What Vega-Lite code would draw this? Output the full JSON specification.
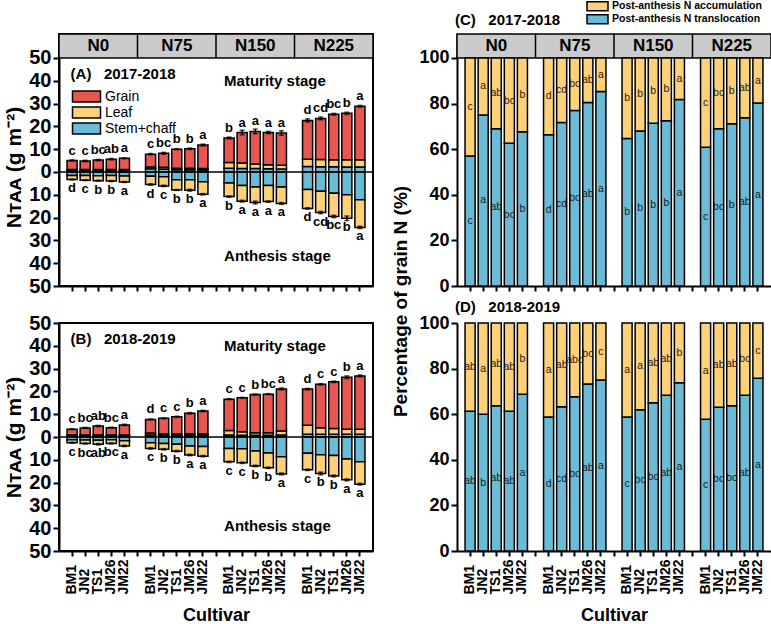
{
"$schema":"https://vega.github.io/schema/vega-lite/v6.json",
"padding":{"left":2,"top":0,"right":1,"bottom":0},
"config":{"font":"Liberation Sans","view":{"stroke":null},
"axis":{"domainColor":"black","domainWidth":2,"tickColor":"black","tickWidth":2,"labelColor":"black","labelFont":"Liberation Sans","labelFontWeight":"bold","titleFont":"Liberation Sans","titleFontWeight":"bold","titleColor":"black","grid":false,"labelOverlap":false,"labelBound":false},
"legend":{"labelFont":"Liberation Sans","labelColor":"black","padding":0},
"text":{"color":"black"},"title":{"font":"Liberation Sans","color":"black"}},
"datasets":{
"nt":[
{"yr":"2017-2018","N":"N0","cv":"BM1","st":"M","Stem+chaff":0.5,"Leaf":0.6,"Grain":3.9,"err":0.3,"lt":"c"},
{"yr":"2017-2018","N":"N0","cv":"JN2","st":"M","Stem+chaff":0.5,"Leaf":0.6,"Grain":3.7,"err":0.3,"lt":"c"},
{"yr":"2017-2018","N":"N0","cv":"TS1","st":"M","Stem+chaff":0.5,"Leaf":0.6,"Grain":4.1,"err":0.3,"lt":"bc"},
{"yr":"2017-2018","N":"N0","cv":"JM26","st":"M","Stem+chaff":0.5,"Leaf":0.6,"Grain":4.5,"err":0.3,"lt":"ab"},
{"yr":"2017-2018","N":"N0","cv":"JM22","st":"M","Stem+chaff":0.5,"Leaf":0.6,"Grain":4.9,"err":0.2,"lt":"a"},
{"yr":"2017-2018","N":"N75","cv":"BM1","st":"M","Stem+chaff":1.4,"Leaf":0.8,"Grain":5.6,"err":0.3,"lt":"c"},
{"yr":"2017-2018","N":"N75","cv":"JN2","st":"M","Stem+chaff":1.3,"Leaf":0.8,"Grain":6.1,"err":0.4,"lt":"bc"},
{"yr":"2017-2018","N":"N75","cv":"TS1","st":"M","Stem+chaff":1.0,"Leaf":0.6,"Grain":8.4,"err":0.2,"lt":"b"},
{"yr":"2017-2018","N":"N75","cv":"JM26","st":"M","Stem+chaff":1.0,"Leaf":0.6,"Grain":8.6,"err":0.3,"lt":"b"},
{"yr":"2017-2018","N":"N75","cv":"JM22","st":"M","Stem+chaff":0.9,"Leaf":0.6,"Grain":10.3,"err":0.4,"lt":"a"},
{"yr":"2017-2018","N":"N150","cv":"BM1","st":"M","Stem+chaff":1.6,"Leaf":2.6,"Grain":10.7,"err":0.4,"lt":"b"},
{"yr":"2017-2018","N":"N150","cv":"JN2","st":"M","Stem+chaff":1.5,"Leaf":2.4,"Grain":13.4,"err":1.0,"lt":"a"},
{"yr":"2017-2018","N":"N150","cv":"TS1","st":"M","Stem+chaff":1.5,"Leaf":2.0,"Grain":14.3,"err":1.0,"lt":"a"},
{"yr":"2017-2018","N":"N150","cv":"JM26","st":"M","Stem+chaff":1.4,"Leaf":1.8,"Grain":14.1,"err":0.5,"lt":"a"},
{"yr":"2017-2018","N":"N150","cv":"JM22","st":"M","Stem+chaff":1.3,"Leaf":1.6,"Grain":14.2,"err":1.0,"lt":"a"},
{"yr":"2017-2018","N":"N225","cv":"BM1","st":"M","Stem+chaff":2.4,"Leaf":3.2,"Grain":17.0,"err":0.7,"lt":"d"},
{"yr":"2017-2018","N":"N225","cv":"JN2","st":"M","Stem+chaff":2.3,"Leaf":3.2,"Grain":18.0,"err":0.6,"lt":"cd"},
{"yr":"2017-2018","N":"N225","cv":"TS1","st":"M","Stem+chaff":2.3,"Leaf":3.1,"Grain":19.9,"err":0.4,"lt":"bc"},
{"yr":"2017-2018","N":"N225","cv":"JM26","st":"M","Stem+chaff":2.2,"Leaf":3.2,"Grain":20.3,"err":0.5,"lt":"b"},
{"yr":"2017-2018","N":"N225","cv":"JM22","st":"M","Stem+chaff":2.2,"Leaf":3.2,"Grain":23.4,"err":0.4,"lt":"a"},
{"yr":"2017-2018","N":"N0","cv":"BM1","st":"A","Stem+chaff":-1.5,"Leaf":-1.8,"err":0.2,"lt":"d"},
{"yr":"2017-2018","N":"N0","cv":"JN2","st":"A","Stem+chaff":-1.6,"Leaf":-2.0,"err":0.2,"lt":"c"},
{"yr":"2017-2018","N":"N0","cv":"TS1","st":"A","Stem+chaff":-1.7,"Leaf":-2.1,"err":0.2,"lt":"b"},
{"yr":"2017-2018","N":"N0","cv":"JM26","st":"A","Stem+chaff":-1.6,"Leaf":-2.4,"err":0.2,"lt":"b"},
{"yr":"2017-2018","N":"N0","cv":"JM22","st":"A","Stem+chaff":-1.8,"Leaf":-2.6,"err":0.2,"lt":"a"},
{"yr":"2017-2018","N":"N75","cv":"BM1","st":"A","Stem+chaff":-1.9,"Leaf":-3.6,"err":0.3,"lt":"d"},
{"yr":"2017-2018","N":"N75","cv":"JN2","st":"A","Stem+chaff":-2.1,"Leaf":-4.0,"err":0.3,"lt":"c"},
{"yr":"2017-2018","N":"N75","cv":"TS1","st":"A","Stem+chaff":-3.4,"Leaf":-4.5,"err":0.2,"lt":"b"},
{"yr":"2017-2018","N":"N75","cv":"JM26","st":"A","Stem+chaff":-3.4,"Leaf":-4.6,"err":0.4,"lt":"b"},
{"yr":"2017-2018","N":"N75","cv":"JM22","st":"A","Stem+chaff":-4.3,"Leaf":-5.5,"err":0.3,"lt":"a"},
{"yr":"2017-2018","N":"N150","cv":"BM1","st":"A","Stem+chaff":-4.8,"Leaf":-6.0,"err":0.3,"lt":"b"},
{"yr":"2017-2018","N":"N150","cv":"JN2","st":"A","Stem+chaff":-5.9,"Leaf":-6.9,"err":0.4,"lt":"a"},
{"yr":"2017-2018","N":"N150","cv":"TS1","st":"A","Stem+chaff":-6.6,"Leaf":-6.8,"err":0.6,"lt":"a"},
{"yr":"2017-2018","N":"N150","cv":"JM26","st":"A","Stem+chaff":-5.9,"Leaf":-7.1,"err":0.3,"lt":"a"},
{"yr":"2017-2018","N":"N150","cv":"JM22","st":"A","Stem+chaff":-6.6,"Leaf":-7.2,"err":0.4,"lt":"a"},
{"yr":"2017-2018","N":"N225","cv":"BM1","st":"A","Stem+chaff":-7.7,"Leaf":-8.3,"err":0.3,"lt":"d"},
{"yr":"2017-2018","N":"N225","cv":"JN2","st":"A","Stem+chaff":-8.4,"Leaf":-9.4,"err":0.5,"lt":"cd"},
{"yr":"2017-2018","N":"N225","cv":"TS1","st":"A","Stem+chaff":-9.3,"Leaf":-10.2,"err":0.5,"lt":"bc"},
{"yr":"2017-2018","N":"N225","cv":"JM26","st":"A","Stem+chaff":-10.0,"Leaf":-10.3,"err":1.0,"lt":"b"},
{"yr":"2017-2018","N":"N225","cv":"JM22","st":"A","Stem+chaff":-12.2,"Leaf":-12.1,"err":0.5,"lt":"a"},
{"yr":"2018-2019","N":"N0","cv":"BM1","st":"M","Stem+chaff":0.5,"Leaf":0.4,"Grain":2.5,"err":0.2,"lt":"c"},
{"yr":"2018-2019","N":"N0","cv":"JN2","st":"M","Stem+chaff":0.5,"Leaf":0.4,"Grain":3.1,"err":0.2,"lt":"bc"},
{"yr":"2018-2019","N":"N0","cv":"TS1","st":"M","Stem+chaff":0.5,"Leaf":0.4,"Grain":3.9,"err":0.3,"lt":"ab"},
{"yr":"2018-2019","N":"N0","cv":"JM26","st":"M","Stem+chaff":0.5,"Leaf":0.4,"Grain":3.2,"err":0.2,"lt":"bc"},
{"yr":"2018-2019","N":"N0","cv":"JM22","st":"M","Stem+chaff":0.5,"Leaf":0.4,"Grain":4.4,"err":0.3,"lt":"a"},
{"yr":"2018-2019","N":"N75","cv":"BM1","st":"M","Stem+chaff":0.9,"Leaf":0.8,"Grain":6.0,"err":0.2,"lt":"d"},
{"yr":"2018-2019","N":"N75","cv":"JN2","st":"M","Stem+chaff":0.8,"Leaf":0.5,"Grain":6.9,"err":0.2,"lt":"c"},
{"yr":"2018-2019","N":"N75","cv":"TS1","st":"M","Stem+chaff":0.8,"Leaf":0.5,"Grain":7.6,"err":0.2,"lt":"c"},
{"yr":"2018-2019","N":"N75","cv":"JM26","st":"M","Stem+chaff":0.8,"Leaf":0.6,"Grain":9.0,"err":0.3,"lt":"b"},
{"yr":"2018-2019","N":"N75","cv":"JM22","st":"M","Stem+chaff":0.8,"Leaf":0.5,"Grain":10.1,"err":0.3,"lt":"a"},
{"yr":"2018-2019","N":"N150","cv":"BM1","st":"M","Stem+chaff":0.9,"Leaf":2.0,"Grain":13.7,"err":0.2,"lt":"c"},
{"yr":"2018-2019","N":"N150","cv":"JN2","st":"M","Stem+chaff":0.8,"Leaf":1.5,"Grain":14.9,"err":0.2,"lt":"c"},
{"yr":"2018-2019","N":"N150","cv":"TS1","st":"M","Stem+chaff":0.8,"Leaf":1.1,"Grain":16.7,"err":0.3,"lt":"b"},
{"yr":"2018-2019","N":"N150","cv":"JM26","st":"M","Stem+chaff":0.8,"Leaf":1.1,"Grain":16.9,"err":0.2,"lt":"bc"},
{"yr":"2018-2019","N":"N150","cv":"JM22","st":"M","Stem+chaff":0.9,"Leaf":1.7,"Grain":18.5,"err":0.4,"lt":"a"},
{"yr":"2018-2019","N":"N225","cv":"BM1","st":"M","Stem+chaff":1.2,"Leaf":3.9,"Grain":15.9,"err":0.3,"lt":"d"},
{"yr":"2018-2019","N":"N225","cv":"JN2","st":"M","Stem+chaff":1.2,"Leaf":2.9,"Grain":19.0,"err":0.3,"lt":"c"},
{"yr":"2018-2019","N":"N225","cv":"TS1","st":"M","Stem+chaff":1.2,"Leaf":2.5,"Grain":20.5,"err":0.3,"lt":"c"},
{"yr":"2018-2019","N":"N225","cv":"JM26","st":"M","Stem+chaff":1.2,"Leaf":2.2,"Grain":22.8,"err":0.6,"lt":"b"},
{"yr":"2018-2019","N":"N225","cv":"JM22","st":"M","Stem+chaff":1.2,"Leaf":2.2,"Grain":23.4,"err":0.4,"lt":"a"},
{"yr":"2018-2019","N":"N0","cv":"BM1","st":"A","Stem+chaff":-1.2,"Leaf":-1.3,"err":0.2,"lt":"c"},
{"yr":"2018-2019","N":"N0","cv":"JN2","st":"A","Stem+chaff":-1.3,"Leaf":-1.6,"err":0.2,"lt":"bc"},
{"yr":"2018-2019","N":"N0","cv":"TS1","st":"A","Stem+chaff":-1.4,"Leaf":-1.8,"err":0.3,"lt":"ab"},
{"yr":"2018-2019","N":"N0","cv":"JM26","st":"A","Stem+chaff":-1.2,"Leaf":-1.6,"err":0.2,"lt":"bc"},
{"yr":"2018-2019","N":"N0","cv":"JM22","st":"A","Stem+chaff":-1.6,"Leaf":-2.3,"err":0.3,"lt":"a"},
{"yr":"2018-2019","N":"N75","cv":"BM1","st":"A","Stem+chaff":-2.5,"Leaf":-2.5,"err":0.3,"lt":"c"},
{"yr":"2018-2019","N":"N75","cv":"JN2","st":"A","Stem+chaff":-2.8,"Leaf":-2.6,"err":0.3,"lt":"b"},
{"yr":"2018-2019","N":"N75","cv":"TS1","st":"A","Stem+chaff":-3.2,"Leaf":-3.0,"err":0.3,"lt":"b"},
{"yr":"2018-2019","N":"N75","cv":"JM26","st":"A","Stem+chaff":-3.9,"Leaf":-4.0,"err":0.3,"lt":"a"},
{"yr":"2018-2019","N":"N75","cv":"JM22","st":"A","Stem+chaff":-4.2,"Leaf":-4.2,"err":0.3,"lt":"a"},
{"yr":"2018-2019","N":"N150","cv":"BM1","st":"A","Stem+chaff":-5.0,"Leaf":-5.9,"err":0.3,"lt":"c"},
{"yr":"2018-2019","N":"N150","cv":"JN2","st":"A","Stem+chaff":-5.2,"Leaf":-6.1,"err":0.3,"lt":"c"},
{"yr":"2018-2019","N":"N150","cv":"TS1","st":"A","Stem+chaff":-6.1,"Leaf":-6.6,"err":0.3,"lt":"b"},
{"yr":"2018-2019","N":"N150","cv":"JM26","st":"A","Stem+chaff":-7.0,"Leaf":-6.5,"err":0.3,"lt":"b"},
{"yr":"2018-2019","N":"N150","cv":"JM22","st":"A","Stem+chaff":-8.7,"Leaf":-7.5,"err":0.4,"lt":"a"},
{"yr":"2018-2019","N":"N225","cv":"BM1","st":"A","Stem+chaff":-7.1,"Leaf":-7.3,"err":0.3,"lt":"c"},
{"yr":"2018-2019","N":"N225","cv":"JN2","st":"A","Stem+chaff":-7.8,"Leaf":-8.2,"err":0.6,"lt":"b"},
{"yr":"2018-2019","N":"N225","cv":"TS1","st":"A","Stem+chaff":-8.1,"Leaf":-9.0,"err":0.4,"lt":"b"},
{"yr":"2018-2019","N":"N225","cv":"JM26","st":"A","Stem+chaff":-9.6,"Leaf":-9.2,"err":0.4,"lt":"a"},
{"yr":"2018-2019","N":"N225","cv":"JM22","st":"A","Stem+chaff":-10.9,"Leaf":-9.8,"err":0.4,"lt":"a"}
],
"pct":[
{"yr":"2017-2018","N":"N0","cv":"BM1","tr":57,"acc":43,"ltr":"c","lacc":"c"},
{"yr":"2017-2018","N":"N0","cv":"JN2","tr":75,"acc":25,"ltr":"a","lacc":"a"},
{"yr":"2017-2018","N":"N0","cv":"TS1","tr":69,"acc":31,"ltr":"ab","lacc":"ab"},
{"yr":"2017-2018","N":"N0","cv":"JM26","tr":62.6,"acc":37.4,"ltr":"bc","lacc":"bc"},
{"yr":"2017-2018","N":"N0","cv":"JM22","tr":67.6,"acc":32.4,"ltr":"b","lacc":"b"},
{"yr":"2017-2018","N":"N75","cv":"BM1","tr":66.3,"acc":33.7,"ltr":"d","lacc":"d"},
{"yr":"2017-2018","N":"N75","cv":"JN2","tr":71.7,"acc":28.3,"ltr":"cd","lacc":"cd"},
{"yr":"2017-2018","N":"N75","cv":"TS1","tr":77,"acc":23,"ltr":"bc","lacc":"bc"},
{"yr":"2017-2018","N":"N75","cv":"JM26","tr":80.5,"acc":19.5,"ltr":"ab","lacc":"ab"},
{"yr":"2017-2018","N":"N75","cv":"JM22","tr":85.3,"acc":14.7,"ltr":"a","lacc":"a"},
{"yr":"2017-2018","N":"N150","cv":"BM1","tr":64.7,"acc":35.3,"ltr":"b","lacc":"b"},
{"yr":"2017-2018","N":"N150","cv":"JN2","tr":68,"acc":32,"ltr":"b","lacc":"b"},
{"yr":"2017-2018","N":"N150","cv":"TS1","tr":71.4,"acc":28.6,"ltr":"b","lacc":"b"},
{"yr":"2017-2018","N":"N150","cv":"JM26","tr":72.5,"acc":27.5,"ltr":"b","lacc":"b"},
{"yr":"2017-2018","N":"N150","cv":"JM22","tr":81.8,"acc":18.2,"ltr":"a","lacc":"a"},
{"yr":"2017-2018","N":"N225","cv":"BM1","tr":60.8,"acc":39.2,"ltr":"c","lacc":"c"},
{"yr":"2017-2018","N":"N225","cv":"JN2","tr":68.9,"acc":31.1,"ltr":"bc","lacc":"bc"},
{"yr":"2017-2018","N":"N225","cv":"TS1","tr":71.2,"acc":28.8,"ltr":"b","lacc":"b"},
{"yr":"2017-2018","N":"N225","cv":"JM26","tr":73.8,"acc":26.2,"ltr":"ab","lacc":"ab"},
{"yr":"2017-2018","N":"N225","cv":"JM22","tr":80.2,"acc":19.8,"ltr":"a","lacc":"a"},
{"yr":"2018-2019","N":"N0","cv":"BM1","tr":61.3,"acc":38.7,"ltr":"ab","lacc":"ab"},
{"yr":"2018-2019","N":"N0","cv":"JN2","tr":60,"acc":40,"ltr":"b","lacc":"a"},
{"yr":"2018-2019","N":"N0","cv":"TS1","tr":63.7,"acc":36.3,"ltr":"ab","lacc":"ab"},
{"yr":"2018-2019","N":"N0","cv":"JM26","tr":61.3,"acc":38.7,"ltr":"ab","lacc":"ab"},
{"yr":"2018-2019","N":"N0","cv":"JM22","tr":68.8,"acc":31.2,"ltr":"a","lacc":"b"},
{"yr":"2018-2019","N":"N75","cv":"BM1","tr":58.8,"acc":41.2,"ltr":"d","lacc":"a"},
{"yr":"2018-2019","N":"N75","cv":"JN2","tr":63.3,"acc":36.7,"ltr":"cd","lacc":"ab"},
{"yr":"2018-2019","N":"N75","cv":"TS1","tr":67.7,"acc":32.3,"ltr":"bc","lacc":"abc"},
{"yr":"2018-2019","N":"N75","cv":"JM26","tr":73.2,"acc":26.8,"ltr":"ab","lacc":"bc"},
{"yr":"2018-2019","N":"N75","cv":"JM22","tr":75,"acc":25,"ltr":"a","lacc":"c"},
{"yr":"2018-2019","N":"N150","cv":"BM1","tr":58.8,"acc":41.2,"ltr":"c","lacc":"a"},
{"yr":"2018-2019","N":"N150","cv":"JN2","tr":62,"acc":38,"ltr":"bc","lacc":"a"},
{"yr":"2018-2019","N":"N150","cv":"TS1","tr":65,"acc":35,"ltr":"bc","lacc":"ab"},
{"yr":"2018-2019","N":"N150","cv":"JM26","tr":68.3,"acc":31.7,"ltr":"ab","lacc":"ab"},
{"yr":"2018-2019","N":"N150","cv":"JM22","tr":73.8,"acc":26.2,"ltr":"a","lacc":"b"},
{"yr":"2018-2019","N":"N225","cv":"BM1","tr":57.8,"acc":42.2,"ltr":"c","lacc":"a"},
{"yr":"2018-2019","N":"N225","cv":"JN2","tr":63,"acc":37,"ltr":"bc","lacc":"ab"},
{"yr":"2018-2019","N":"N225","cv":"TS1","tr":63.7,"acc":36.3,"ltr":"bc","lacc":"ab"},
{"yr":"2018-2019","N":"N225","cv":"JM26","tr":68.3,"acc":31.7,"ltr":"ab","lacc":"bc"},
{"yr":"2018-2019","N":"N225","cv":"JM22","tr":75.8,"acc":24.2,"ltr":"a","lacc":"c"}
]},
"columns":2,
"spacing":{"row":37,"column":84},
"bounds":"flush",
"resolve":{"scale":{"color":"independent"},"legend":{"color":"independent"}},
"concat":[
{"width":314,"height":252,"view":{"stroke":"black","strokeWidth":2},
"layer":[
{"data":{"values":[{}]},"mark":{"type":"rect","fill":"#CBCBCB","stroke":"black","strokeWidth":1.5},"encoding":{"y":{"datum":50,"type":"quantitative"},"y2":{"datum":60.5}}},
{"data":{"values":[{"s":"s1"},{"s":"s2"},{"s":"s3"}]},"mark":{"type":"rule","color":"black","strokeWidth":1.5},"encoding":{"x":{"field":"s","type":"nominal","title":null,"scale":{"domain":["N0|BM1","N0|JN2","N0|TS1","N0|JM26","N0|JM22","s1","N75|BM1","N75|JN2","N75|TS1","N75|JM26","N75|JM22","s2","N150|BM1","N150|JN2","N150|TS1","N150|JM26","N150|JM22","s3","N225|BM1","N225|JN2","N225|TS1","N225|JM26","N225|JM22"],"paddingInner":0.23,"paddingOuter":0.615}},"y":{"datum":50,"type":"quantitative"},"y2":{"datum":60.5}}},
{"data":{"values":[{"N":"N0"},{"N":"N75"},{"N":"N150"},{"N":"N225"}]},"transform":[{"calculate":"datum.N+'|TS1'","as":"key"}],"mark":{"type":"text","fontSize":17,"fontWeight":"bold","baseline":"middle"},"encoding":{"x":{"field":"key","type":"nominal","title":null},"y":{"datum":55.25,"type":"quantitative"},"text":{"field":"N"}}},
{"data":{"name":"nt"},"transform":[{"filter":"datum.yr=='2017-2018'"},{"fold":["Stem+chaff","Leaf","Grain"],"as":["part","v"]},{"filter":"isValid(datum.v)"},{"calculate":"datum.N+'|'+datum.cv","as":"key"}],
"mark":{"type":"bar","stroke":"black","strokeWidth":1.5},
"encoding":{"x":{"field":"key","type":"nominal","title":null,"axis":{"labels":false,"ticks":true,"tickSize":5,"title":null}},
"y":{"field":"v","type":"quantitative","stack":"zero","title":"Nᴛᴀᴀ (g m⁻²)","scale":{"domain":[-50,60.5],"nice":false,"zero":false},"axis":{"values":[-50,-40,-30,-20,-10,0,10,20,30,40,50],"tickCount":12,"labelExpr":"abs(datum.value)","labelOverlap":false,"title":"Nᴛᴀᴀ (g m⁻²)","labelFontSize":20,"titleFontSize":21,"tickSize":6,"labelPadding":2,"titleX":-35,"titleY":133}},
"color":{"field":"part","type":"nominal","scale":{"domain":["Grain","Leaf","Stem+chaff"],"range":["#E5574F","#FDD07A","#6BBAD6"]},"legend":{"orient":"none","legendX":20.5,"legendY":55.5,"title":null,"symbolType":"M-2.545,-1H2.545V1H-2.545Z","symbolSize":121,"symbolStrokeColor":"black","symbolStrokeWidth":1.5,"symbolOpacity":1,"labelFontSize":14,"labelFontWeight":"normal","labelOffset":11.5,"rowPadding":-2}},
"order":{"field":"part","type":"nominal","sort":"descending"}}},
{"data":{"name":"nt"},"transform":[{"filter":"datum.yr=='2017-2018'"},{"fold":["Stem+chaff","Leaf","Grain"],"as":["part","v"]},{"filter":"isValid(datum.v)"},{"joinaggregate":[{"op":"sum","field":"v","as":"tot"}],"groupby":["N","cv","st"]},{"filter":"datum.part=='Leaf'"},{"calculate":"datum.N+'|'+datum.cv","as":"key"}],
"mark":{"type":"errorbar","ticks":true,"color":"black","thickness":1.5,"size":5},
"encoding":{"x":{"field":"key","type":"nominal","title":null},"y":{"field":"tot","type":"quantitative","title":"Nᴛᴀᴀ (g m⁻²)"},"yError":{"field":"err"}}},
{"data":{"name":"nt"},"transform":[{"filter":"datum.yr=='2017-2018'"},{"fold":["Stem+chaff","Leaf","Grain"],"as":["part","v"]},{"filter":"isValid(datum.v)"},{"joinaggregate":[{"op":"sum","field":"v","as":"tot"}],"groupby":["N","cv","st"]},{"filter":"datum.part=='Leaf' && datum.st=='M'"},{"calculate":"datum.N+'|'+datum.cv","as":"key"}],
"mark":{"type":"text","baseline":"bottom","dy":-3,"fontSize":13,"fontWeight":"bold"},
"encoding":{"x":{"field":"key","type":"nominal","title":null},"y":{"field":"tot","type":"quantitative","title":"Nᴛᴀᴀ (g m⁻²)"},"text":{"field":"lt"}}},
{"data":{"name":"nt"},"transform":[{"filter":"datum.yr=='2017-2018'"},{"fold":["Stem+chaff","Leaf","Grain"],"as":["part","v"]},{"filter":"isValid(datum.v)"},{"joinaggregate":[{"op":"sum","field":"v","as":"tot"}],"groupby":["N","cv","st"]},{"filter":"datum.part=='Leaf' && datum.st=='A'"},{"calculate":"datum.N+'|'+datum.cv","as":"key"}],
"mark":{"type":"text","baseline":"top","dy":3,"fontSize":13,"fontWeight":"bold"},
"encoding":{"x":{"field":"key","type":"nominal","title":null},"y":{"field":"tot","type":"quantitative","title":"Nᴛᴀᴀ (g m⁻²)"},"text":{"field":"lt"}}},
{"data":{"values":[{}]},"mark":{"type":"rule","color":"black","strokeWidth":1.5},"encoding":{"y":{"datum":0,"type":"quantitative"}}},
{"data":{"values":[{}]},"mark":{"type":"text","text":"(A)\u00a0\u00a0\u00a02017-2018","align":"left","baseline":"middle","fontSize":15,"fontWeight":"bold"},"encoding":{"x":{"datum":"N0|BM1","type":"nominal","bandPosition":0.35},"y":{"datum":43,"type":"quantitative"}}},
{"data":{"values":[{}]},"mark":{"type":"text","text":"Maturity stage","align":"left","baseline":"middle","fontSize":15,"fontWeight":"bold"},"encoding":{"x":{"datum":"N150|BM1","type":"nominal","bandPosition":0},"y":{"datum":40,"type":"quantitative"}}},
{"data":{"values":[{}]},"mark":{"type":"text","text":"Anthesis stage","align":"left","baseline":"middle","fontSize":15,"fontWeight":"bold"},"encoding":{"x":{"datum":"N150|BM1","type":"nominal","bandPosition":0},"y":{"datum":-37,"type":"quantitative"}}}
]},
{"width":314,"height":252,
"layer":[
{"data":{"values":[{}]},"mark":{"type":"rect","fill":"#CBCBCB","stroke":"black","strokeWidth":1.5},"encoding":{"y":{"datum":100,"type":"quantitative"},"y2":{"datum":110.5}}},
{"data":{"values":[{"s":"s1"},{"s":"s2"},{"s":"s3"}]},"mark":{"type":"rule","color":"black","strokeWidth":1.5},"encoding":{"x":{"field":"s","type":"nominal","title":null,"scale":{"domain":["N0|BM1","N0|JN2","N0|TS1","N0|JM26","N0|JM22","s1","N75|BM1","N75|JN2","N75|TS1","N75|JM26","N75|JM22","s2","N150|BM1","N150|JN2","N150|TS1","N150|JM26","N150|JM22","s3","N225|BM1","N225|JN2","N225|TS1","N225|JM26","N225|JM22"],"paddingInner":0.23,"paddingOuter":0.615}},"y":{"datum":100,"type":"quantitative"},"y2":{"datum":110.5}}},
{"data":{"values":[{"N":"N0"},{"N":"N75"},{"N":"N150"},{"N":"N225"}]},"transform":[{"calculate":"datum.N+'|TS1'","as":"key"}],"mark":{"type":"text","fontSize":17,"fontWeight":"bold","baseline":"middle"},"encoding":{"x":{"field":"key","type":"nominal","title":null},"y":{"datum":105.25,"type":"quantitative"},"text":{"field":"N"}}},
{"data":{"values":[{}]},"mark":{"type":"text","text":"(C)\u00a0\u00a0\u00a02017-2018","align":"left","baseline":"bottom","dx":-10,"dy":-6,"fontSize":15,"fontWeight":"bold"},"encoding":{"x":{"datum":"N0|BM1","type":"nominal","bandPosition":0},"y":{"datum":110.5,"type":"quantitative"}}},
{"data":{"name":"pct"},"transform":[{"filter":"datum.yr=='2017-2018'"},{"fold":["tr","acc"],"as":["part","v"]},{"calculate":"datum.N+'|'+datum.cv","as":"key"}],
"mark":{"type":"bar","stroke":"black","strokeWidth":1.5},
"encoding":{"x":{"field":"key","type":"nominal","title":null,"axis":{"labels":false,"ticks":true,"tickSize":5,"title":null}},
"y":{"field":"v","type":"quantitative","stack":"zero","title":"Percentage of grain N (%)","scale":{"domain":[0,110.5],"nice":false},"axis":{"values":[0,20,40,60,80,100],"tickCount":12,"labelOverlap":false,"title":"Percentage of grain N (%)","titleFontSize":19,"titleX":-47,"titleY":267,"labelFontSize":18,"tickSize":6,"labelPadding":2}},
"color":{"field":"part","type":"nominal","scale":{"domain":["acc","tr"],"range":["#FDD07A","#6BBAD6"]},"legend":{"orient":"none","legendX":135,"legendY":-33.25,"title":null,"labelExpr":"datum.label=='acc' ? 'Post-anthesis N accumulation' : 'Post-anthesis N translocation'","labelLimit":400,"symbolType":"M-2.333,-1H2.333V1H-2.333Z","symbolSize":81,"symbolStrokeColor":"black","symbolStrokeWidth":1.5,"symbolOpacity":1,"labelFontSize":10.5,"labelFontWeight":"bold","labelOffset":9,"rowPadding":-4}},
"order":{"field":"part","type":"nominal","sort":"descending"}}},
{"data":{"name":"pct"},"transform":[{"filter":"datum.yr=='2017-2018'"},{"fold":["tr","acc"],"as":["part","v"]},{"stack":"v","groupby":["N","cv"],"sort":[{"field":"part","order":"descending"}],"as":["y0","y1"]},{"calculate":"(datum.y0+datum.y1)/2","as":"mid"},{"calculate":"datum.part=='tr' ? datum.ltr : datum.lacc","as":"lab"},{"calculate":"datum.N+'|'+datum.cv","as":"key"}],
"mark":{"type":"text","fontSize":10.5,"color":"#1a1a1a","baseline":"middle"},
"encoding":{"x":{"field":"key","type":"nominal","title":null},"y":{"field":"mid","type":"quantitative","title":"Percentage of grain N (%)"},"text":{"field":"lab"}}}
]},
{"width":314,"height":228,"view":{"stroke":"black","strokeWidth":2},
"layer":[
{"data":{"name":"nt"},"transform":[{"filter":"datum.yr=='2018-2019'"},{"fold":["Stem+chaff","Leaf","Grain"],"as":["part","v"]},{"filter":"isValid(datum.v)"},{"calculate":"datum.N+'|'+datum.cv","as":"key"}],
"mark":{"type":"bar","stroke":"black","strokeWidth":1.5},
"encoding":{"x":{"field":"key","type":"nominal","title":"Cultivar","scale":{"domain":["N0|BM1","N0|JN2","N0|TS1","N0|JM26","N0|JM22","s1","N75|BM1","N75|JN2","N75|TS1","N75|JM26","N75|JM22","s2","N150|BM1","N150|JN2","N150|TS1","N150|JM26","N150|JM22","s3","N225|BM1","N225|JN2","N225|TS1","N225|JM26","N225|JM22"],"paddingInner":0.23,"paddingOuter":0.615},"axis":{"labelExpr":"indexof(datum.value,'|')>0 ? split(datum.value,'|')[1] : ''","labelAngle":-90,"labelAlign":"left","labelBaseline":"middle","labelPadding":38,"labelFontSize":14,"labelOverlap":false,"tickSize":5,"title":"Cultivar","titleFontSize":18,"titleBaseline":"middle","titleY":64}},
"y":{"field":"v","type":"quantitative","stack":"zero","title":"Nᴛᴀᴀ (g m⁻²)","scale":{"domain":[-50,50],"nice":false,"zero":false},"axis":{"values":[-50,-40,-30,-20,-10,0,10,20,30,40,50],"tickCount":12,"labelExpr":"abs(datum.value)","labelOverlap":false,"title":"Nᴛᴀᴀ (g m⁻²)","labelFontSize":20,"titleFontSize":21,"tickSize":6,"labelPadding":2,"titlePadding":4}},
"color":{"field":"part","type":"nominal","scale":{"domain":["Grain","Leaf","Stem+chaff"],"range":["#E5574F","#FDD07A","#6BBAD6"]},"legend":null},
"order":{"field":"part","type":"nominal","sort":"descending"}}},
{"data":{"name":"nt"},"transform":[{"filter":"datum.yr=='2018-2019'"},{"fold":["Stem+chaff","Leaf","Grain"],"as":["part","v"]},{"filter":"isValid(datum.v)"},{"joinaggregate":[{"op":"sum","field":"v","as":"tot"}],"groupby":["N","cv","st"]},{"filter":"datum.part=='Leaf'"},{"calculate":"datum.N+'|'+datum.cv","as":"key"}],
"mark":{"type":"errorbar","ticks":true,"color":"black","thickness":1.5,"size":5},
"encoding":{"x":{"field":"key","type":"nominal","title":"Cultivar"},"y":{"field":"tot","type":"quantitative","title":"Nᴛᴀᴀ (g m⁻²)"},"yError":{"field":"err"}}},
{"data":{"name":"nt"},"transform":[{"filter":"datum.yr=='2018-2019'"},{"fold":["Stem+chaff","Leaf","Grain"],"as":["part","v"]},{"filter":"isValid(datum.v)"},{"joinaggregate":[{"op":"sum","field":"v","as":"tot"}],"groupby":["N","cv","st"]},{"filter":"datum.part=='Leaf' && datum.st=='M'"},{"calculate":"datum.N+'|'+datum.cv","as":"key"}],
"mark":{"type":"text","baseline":"bottom","dy":-3,"fontSize":13,"fontWeight":"bold"},
"encoding":{"x":{"field":"key","type":"nominal","title":"Cultivar"},"y":{"field":"tot","type":"quantitative","title":"Nᴛᴀᴀ (g m⁻²)"},"text":{"field":"lt"}}},
{"data":{"name":"nt"},"transform":[{"filter":"datum.yr=='2018-2019'"},{"fold":["Stem+chaff","Leaf","Grain"],"as":["part","v"]},{"filter":"isValid(datum.v)"},{"joinaggregate":[{"op":"sum","field":"v","as":"tot"}],"groupby":["N","cv","st"]},{"filter":"datum.part=='Leaf' && datum.st=='A'"},{"calculate":"datum.N+'|'+datum.cv","as":"key"}],
"mark":{"type":"text","baseline":"top","dy":3,"fontSize":13,"fontWeight":"bold"},
"encoding":{"x":{"field":"key","type":"nominal","title":"Cultivar"},"y":{"field":"tot","type":"quantitative","title":"Nᴛᴀᴀ (g m⁻²)"},"text":{"field":"lt"}}},
{"data":{"values":[{}]},"mark":{"type":"rule","color":"black","strokeWidth":1.5},"encoding":{"y":{"datum":0,"type":"quantitative"}}},
{"data":{"values":[{}]},"mark":{"type":"text","text":"(B)\u00a0\u00a0\u00a02018-2019","align":"left","baseline":"middle","fontSize":15,"fontWeight":"bold"},"encoding":{"x":{"datum":"N0|BM1","type":"nominal","bandPosition":0.35},"y":{"datum":43.2,"type":"quantitative"}}},
{"data":{"values":[{}]},"mark":{"type":"text","text":"Maturity stage","align":"left","baseline":"middle","fontSize":15,"fontWeight":"bold"},"encoding":{"x":{"datum":"N150|BM1","type":"nominal","bandPosition":0},"y":{"datum":40,"type":"quantitative"}}},
{"data":{"values":[{}]},"mark":{"type":"text","text":"Anthesis stage","align":"left","baseline":"middle","fontSize":15,"fontWeight":"bold"},"encoding":{"x":{"datum":"N150|BM1","type":"nominal","bandPosition":0},"y":{"datum":-39,"type":"quantitative"}}}
]},
{"width":314,"height":228,
"layer":[
{"data":{"name":"pct"},"transform":[{"filter":"datum.yr=='2018-2019'"},{"fold":["tr","acc"],"as":["part","v"]},{"calculate":"datum.N+'|'+datum.cv","as":"key"}],
"mark":{"type":"bar","stroke":"black","strokeWidth":1.5},
"encoding":{"x":{"field":"key","type":"nominal","title":"Cultivar","scale":{"domain":["N0|BM1","N0|JN2","N0|TS1","N0|JM26","N0|JM22","s1","N75|BM1","N75|JN2","N75|TS1","N75|JM26","N75|JM22","s2","N150|BM1","N150|JN2","N150|TS1","N150|JM26","N150|JM22","s3","N225|BM1","N225|JN2","N225|TS1","N225|JM26","N225|JM22"],"paddingInner":0.23,"paddingOuter":0.615},"axis":{"labelExpr":"indexof(datum.value,'|')>0 ? split(datum.value,'|')[1] : ''","labelAngle":-90,"labelAlign":"left","labelBaseline":"middle","labelPadding":38,"labelFontSize":14,"labelOverlap":false,"tickSize":5,"title":"Cultivar","titleFontSize":18,"titleBaseline":"middle","titleY":64}},
"y":{"field":"v","type":"quantitative","stack":"zero","scale":{"domain":[0,100],"nice":false},"axis":{"values":[0,20,40,60,80,100],"tickCount":12,"labelOverlap":false,"title":null,"labelFontSize":18,"tickSize":6,"labelPadding":2}},
"color":{"field":"part","type":"nominal","scale":{"domain":["acc","tr"],"range":["#FDD07A","#6BBAD6"]},"legend":null},
"order":{"field":"part","type":"nominal","sort":"descending"}}},
{"data":{"name":"pct"},"transform":[{"filter":"datum.yr=='2018-2019'"},{"fold":["tr","acc"],"as":["part","v"]},{"stack":"v","groupby":["N","cv"],"sort":[{"field":"part","order":"descending"}],"as":["y0","y1"]},{"calculate":"(datum.y0+datum.y1)/2","as":"mid"},{"calculate":"datum.part=='tr' ? datum.ltr : datum.lacc","as":"lab"},{"calculate":"datum.N+'|'+datum.cv","as":"key"}],
"mark":{"type":"text","fontSize":10.5,"color":"#1a1a1a","baseline":"middle"},
"encoding":{"x":{"field":"key","type":"nominal","title":"Cultivar"},"y":{"field":"mid","type":"quantitative","title":null},"text":{"field":"lab"}}},
{"data":{"values":[{}]},"mark":{"type":"text","text":"(D)\u00a0\u00a0\u00a02018-2019","align":"left","baseline":"bottom","dx":-10,"dy":-8,"fontSize":15,"fontWeight":"bold"},"encoding":{"x":{"datum":"N0|BM1","type":"nominal","bandPosition":0},"y":{"datum":100,"type":"quantitative"}}}
]}
]
}
